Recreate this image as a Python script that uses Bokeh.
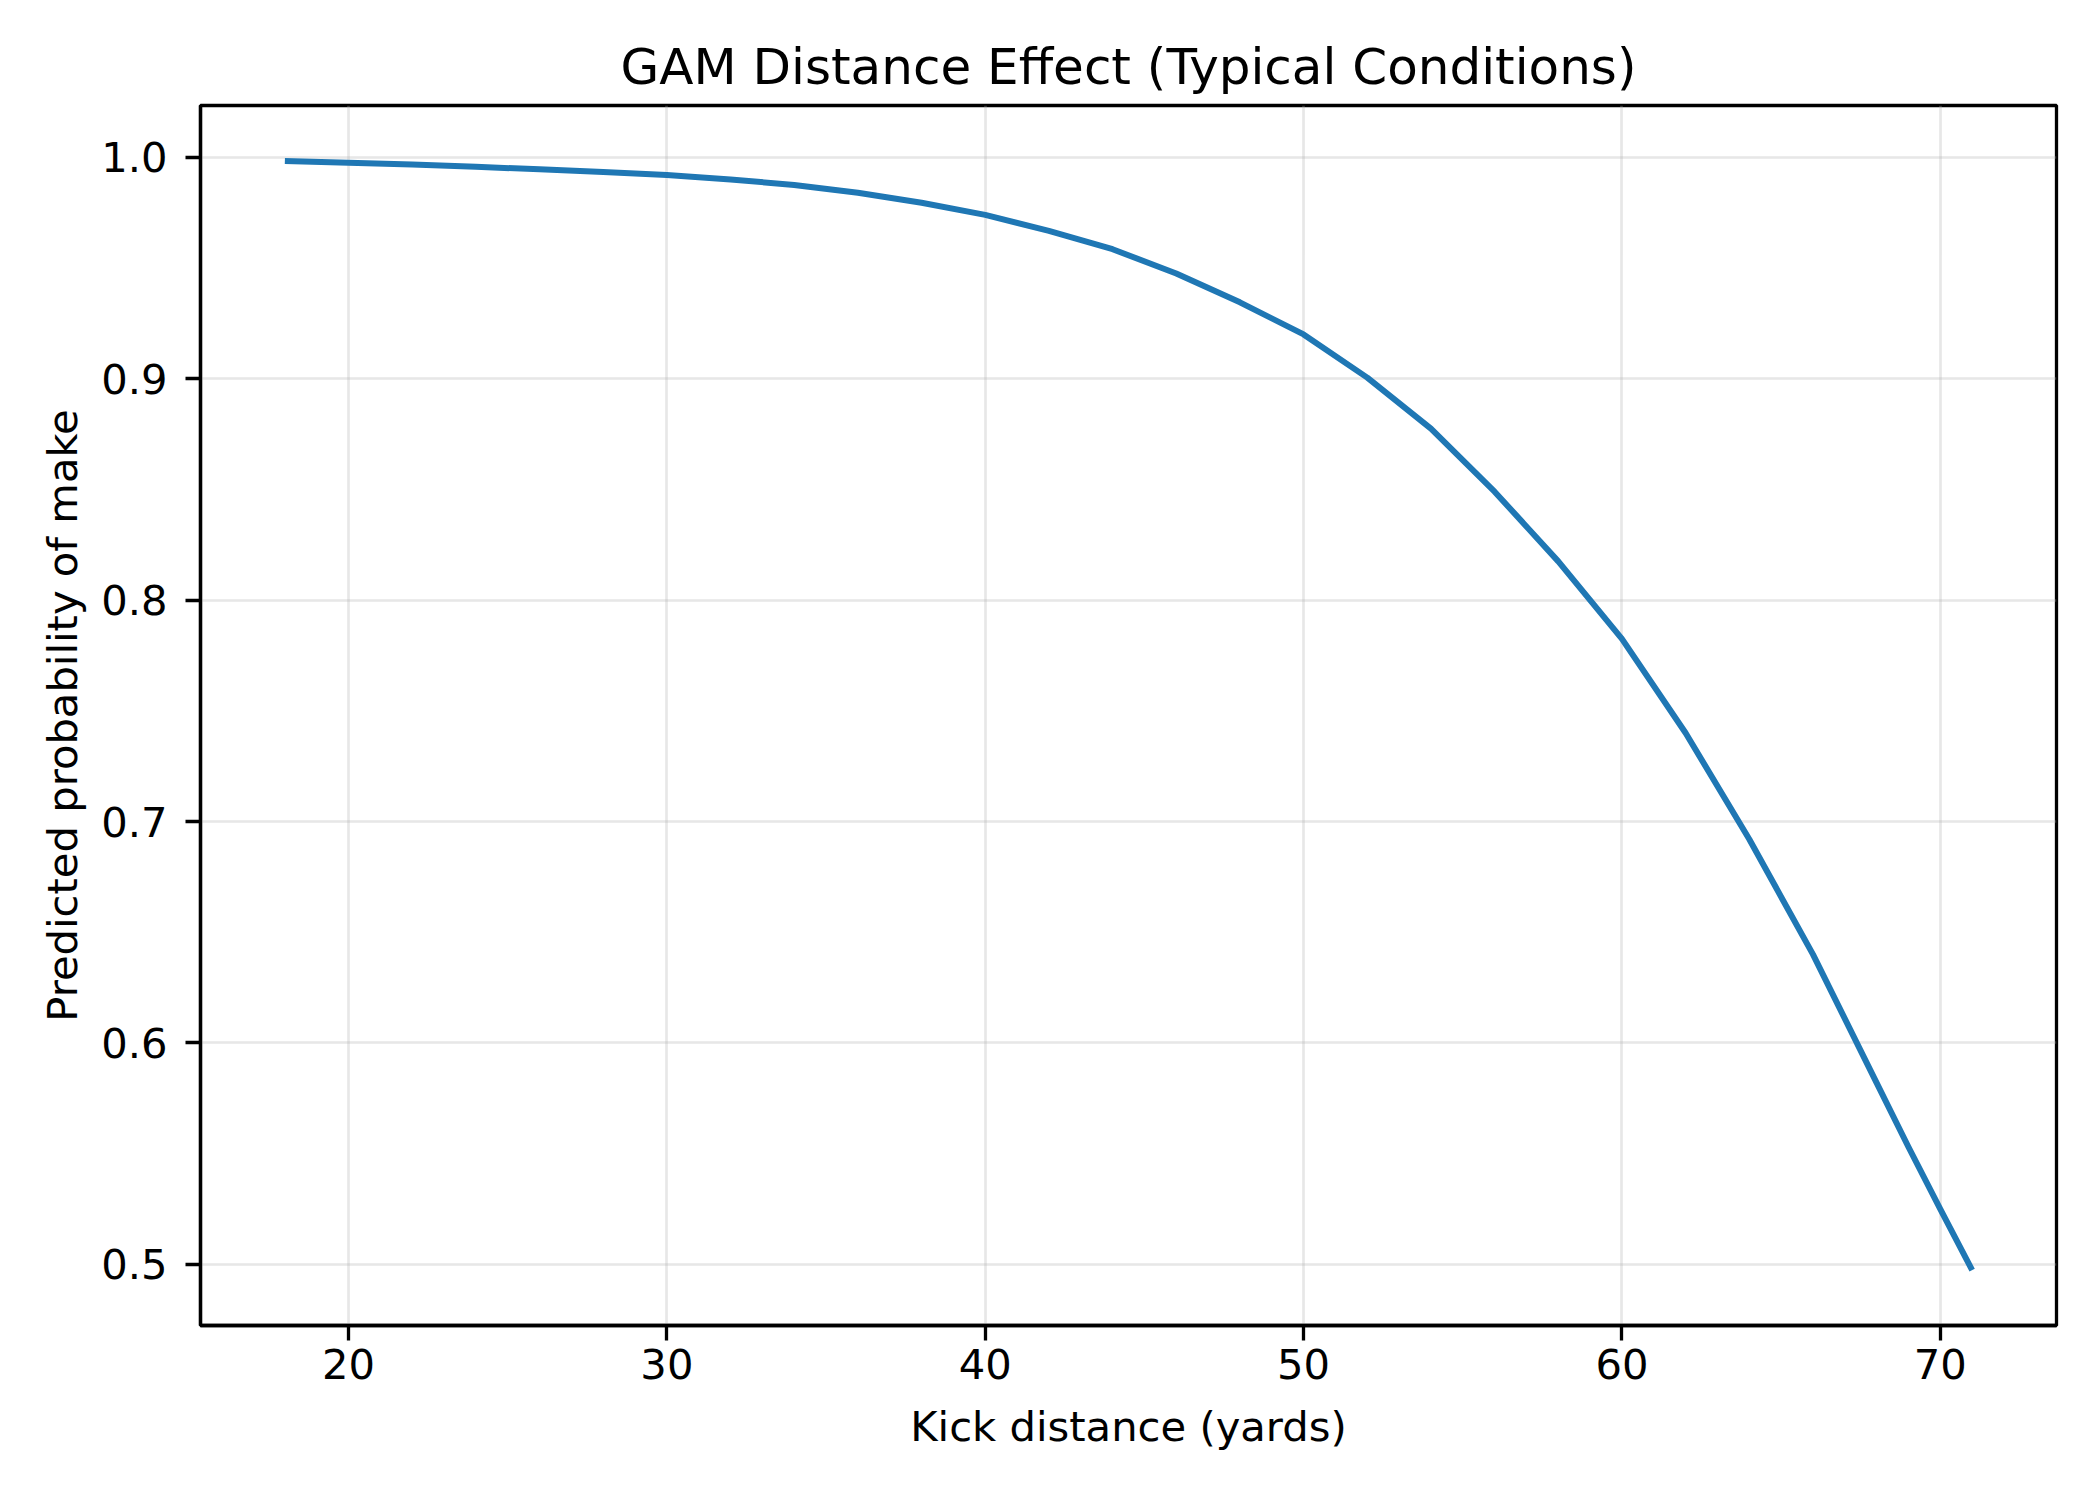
from bokeh.plotting import figure
from bokeh.models import FixedTicker, PrintfTickFormatter, Range1d
from bokeh.embed import file_html
from bokeh.resources import INLINE

# Data
distance = [18, 20, 22, 24, 26, 28, 30, 32, 34, 36, 38, 40, 42, 44, 46, 48,
            50, 52, 54, 56, 58, 60, 62, 64, 66, 68, 69, 70, 71]
prob_make = [0.9983, 0.9975, 0.9967, 0.9957, 0.9946, 0.9934, 0.9920, 0.9900,
             0.9875, 0.9840, 0.9795, 0.9740, 0.9668, 0.9585, 0.9475, 0.9345,
             0.9200, 0.9005, 0.8775, 0.8490, 0.8175, 0.7825, 0.7400, 0.6920,
             0.6400, 0.5820, 0.5530, 0.5250, 0.4974]
x_ticks = [20, 30, 40, 50, 60, 70]
y_ticks = [0.5, 0.6, 0.7, 0.8, 0.9, 1.0]

FONT = "DejaVu Sans"

p = figure(width=2092, height=1492, output_backend="svg", toolbar_location=None,
           x_range=Range1d(15.35, 73.65), y_range=Range1d(0.4724, 1.0234),
           title="GAM Distance Effect (Typical Conditions)",
           min_border_left=200, min_border_right=36,
           min_border_top=105, min_border_bottom=167)

p.line(distance, prob_make, line_color="#1f77b4", line_width=6,
       line_join="round")

p.title.text_font = FONT
p.title.text_font_size = "50px"
p.title.text_font_style = "normal"
p.title.align = "center"
p.title.text_color = "black"
p.title.standoff = 19

p.xaxis.ticker = FixedTicker(ticks=x_ticks)
p.yaxis.ticker = FixedTicker(ticks=y_ticks)
p.xaxis.formatter = PrintfTickFormatter(format="%d")
p.yaxis.formatter = PrintfTickFormatter(format="%.1f")
p.xaxis.axis_label = "Kick distance (yards)"
p.yaxis.axis_label = "Predicted probability of make"

for ax in (p.xaxis, p.yaxis):
    ax.axis_label_text_font = FONT
    ax.axis_label_text_font_size = "41.7px"
    ax.axis_label_text_font_style = "normal"
    ax.axis_label_text_color = "black"
    ax.major_label_text_font = FONT
    ax.major_label_text_font_size = "41.7px"
    ax.major_label_text_color = "black"
    ax.axis_line_color = "black"
    ax.axis_line_width = 3.3
    ax.major_tick_line_color = "black"
    ax.major_tick_line_width = 3.3
    ax.major_tick_out = 15
    ax.major_tick_in = 0
    ax.minor_tick_line_color = None

p.xaxis.major_label_standoff = 8
p.xaxis.axis_label_standoff = 20
p.yaxis.major_label_standoff = 18
p.yaxis.axis_label_standoff = 11

p.outline_line_color = "black"
p.outline_line_width = 3.3
p.outline_line_alpha = 1.0

p.xgrid.grid_line_color = "#b0b0b0"
p.ygrid.grid_line_color = "#b0b0b0"
p.xgrid.grid_line_alpha = 0.3
p.ygrid.grid_line_alpha = 0.3
p.xgrid.grid_line_width = 2.7
p.ygrid.grid_line_width = 2.7

p.background_fill_color = "white"
p.border_fill_color = "white"

open("out.html", "w").write(file_html(p, INLINE))
